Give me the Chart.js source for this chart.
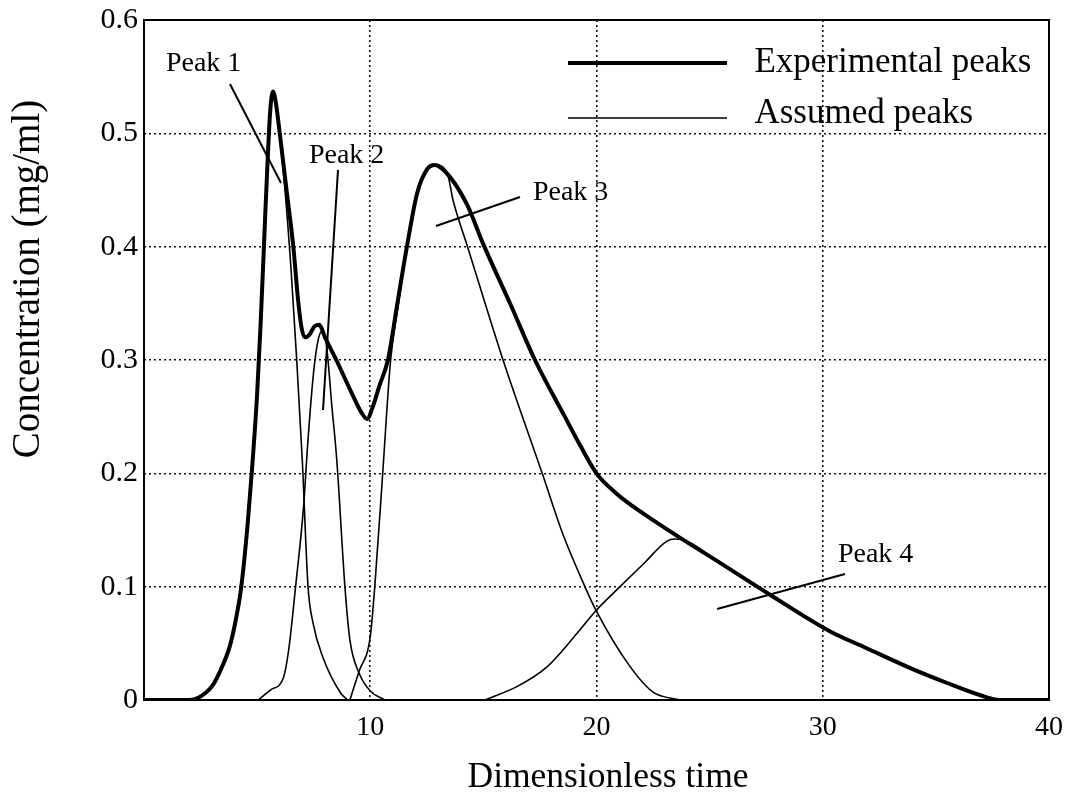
<!DOCTYPE html>
<html>
<head>
<meta charset="utf-8">
<title>Concentration vs dimensionless time</title>
<script src="https://cdn.jsdelivr.net/npm/chart.js@4.4.1/dist/chart.umd.min.js"></script>
<style>
  html, body { margin: 0; padding: 0; background: #fff; }
  #wrap { width: 1072px; height: 805px; }
</style>
</head>
<body>
<div id="wrap"><canvas id="grafico" width="1072" height="805"></canvas></div>
<script>
// =====================================================
// DATOS
// =====================================================

// curva experimental (trazo grueso)
const expTime = [0, 2.0, 2.4, 3.0, 3.33, 3.8, 4.07, 4.3, 4.58, 4.78, 5.0, 5.15, 5.3, 5.45, 5.58, 5.7, 5.82, 6.0, 6.3, 6.6, 6.8, 6.95, 7.1, 7.3, 7.55, 7.75, 8.0, 8.5, 9.2, 9.6, 9.86, 10.1, 10.4, 10.78, 11.2, 11.62, 12.07, 12.5, 12.86, 13.5, 14.28, 15.0, 16.2, 17.28, 18.6, 19.27, 20.0, 20.89, 21.6, 22.4, 23.7, 25.46, 27.58, 30.37, 31.8, 34.0, 35.5, 37.0, 37.8, 40];
const expConc = [0, 0, 0.002, 0.012, 0.024, 0.048, 0.072, 0.10, 0.155, 0.205, 0.27, 0.33, 0.40, 0.47, 0.52, 0.537, 0.528, 0.50, 0.45, 0.40, 0.355, 0.33, 0.32, 0.322, 0.33, 0.331, 0.32, 0.30, 0.27, 0.254, 0.248, 0.258, 0.277, 0.30, 0.35, 0.40, 0.447, 0.468, 0.472, 0.462, 0.437, 0.402, 0.349, 0.30, 0.25, 0.225, 0.20, 0.182, 0.171, 0.160, 0.143, 0.121, 0.094, 0.060, 0.047, 0.027, 0.015, 0.004, 0, 0];

// picos supuestos (trazo fino)
const peak1Time = [2.0, 2.4, 3.0, 3.33, 3.8, 4.07, 4.3, 4.58, 4.78, 5.0, 5.15, 5.3, 5.45, 5.58, 5.7, 5.85, 6.15, 6.5, 6.75, 7.0, 7.25, 7.47, 7.9, 8.7, 9.0];
const peak1Conc = [0, 0.002, 0.012, 0.024, 0.048, 0.072, 0.10, 0.155, 0.205, 0.27, 0.33, 0.40, 0.47, 0.52, 0.537, 0.52, 0.468, 0.38, 0.30, 0.21, 0.10, 0.068, 0.038, 0.006, 0];

const peak2Time = [5.05, 5.6, 6.15, 6.4, 6.7, 7.05, 7.25, 7.5, 7.7, 7.9, 8.08, 8.3, 8.52, 8.88, 9.1, 9.5, 10.0, 10.65];
const peak2Conc = [0, 0.009, 0.019, 0.045, 0.10, 0.17, 0.23, 0.29, 0.318, 0.326, 0.31, 0.26, 0.212, 0.10, 0.053, 0.024, 0.008, 0];

const peak3Time = [9.1, 9.5, 10.0, 10.2, 10.55, 10.9, 11.25, 11.62, 12.07, 12.5, 12.86, 13.4, 13.66, 14.3, 15.87, 17.6, 18.52, 19.27, 19.98, 21.5, 22.5, 23.7];
const peak3Conc = [0, 0.025, 0.056, 0.10, 0.20, 0.30, 0.35, 0.40, 0.447, 0.468, 0.472, 0.465, 0.441, 0.40, 0.30, 0.20, 0.146, 0.110, 0.079, 0.029, 0.007, 0];

const peak4Time = [15.07, 16.5, 17.8, 19.27, 19.98, 21.04, 22.07, 23.1, 23.47, 24.0, 25.46, 27.58, 30.37, 31.8, 34.0, 35.5, 37.0, 37.8, 40];
const peak4Conc = [0, 0.012, 0.029, 0.062, 0.079, 0.10, 0.12, 0.14, 0.142, 0.14, 0.121, 0.094, 0.060, 0.047, 0.027, 0.015, 0.004, 0, 0];

// ejes
const xTickValues = [0, 10, 20, 30, 40];
const xTickLabels = ["", "10", "20", "30", "40"];
const yTickValues = [0, 0.1, 0.2, 0.3, 0.4, 0.5, 0.6];
const yTickLabels = ["0", "0.1", "0.2", "0.3", "0.4", "0.5", "0.6"];

const xTitle = "Dimensionless time";
const yTitle = "Concentration (mg/ml)";
const expLabel = "Experimental peaks";
const assumedLabel = "Assumed peaks";

// =====================================================
// ANOTACIONES (posicion en unidades de los ejes)
// =====================================================

const notas = [
  { texto: "Peak 1", x: 0.97, y: 0.555, desde: [3.80, 0.5435], hasta: [6.055, 0.4562] },
  { texto: "Peak 2", x: 7.29, y: 0.4738, desde: [8.575, 0.4676], hasta: [7.912, 0.2559] },
  { texto: "Peak 3", x: 17.19, y: 0.4412, desde: [16.62, 0.4438], hasta: [12.906, 0.4182] },
  { texto: "Peak 4", x: 30.67, y: 0.1218, desde: [30.98, 0.1112], hasta: [25.33, 0.0803] }
];

const leyenda = {
  lineaX0: 18.74, lineaX1: 25.77, textoX: 26.98,
  filas: [
    { lineaY: 0.5621, textoY: 0.5541, grosor: 4 },
    { lineaY: 0.5135, textoY: 0.5091, grosor: 1.6 }
  ]
};

const SERIF = '"Liberation Serif", "Times New Roman", serif';

function puntos(xs, ys) {
  return xs.map((x, i) => ({ x: x, y: ys[i] }));
}

function serie(label, xs, ys, grosor) {
  return {
    label: label,
    data: puntos(xs, ys),
    borderColor: "#000",
    borderWidth: grosor,
    pointRadius: 0,
    fill: false,
    cubicInterpolationMode: "monotone",
    borderCapStyle: "round",
    borderJoinStyle: "round"
  };
}

// =====================================================
// PLUGIN: marco, titulos, leyenda y notas
// =====================================================

const decoracion = {
  id: "decoracion",
  afterDraw(chart) {
    const ctx = chart.ctx;
    const xs = chart.scales.x;
    const ys = chart.scales.y;
    const area = chart.chartArea;
    const px = v => xs.getPixelForValue(v);
    const py = v => ys.getPixelForValue(v);

    ctx.save();

    // marco
    ctx.strokeStyle = "#000";
    ctx.lineWidth = 2;
    ctx.strokeRect(area.left, area.top, area.right - area.left, area.bottom - area.top);

    ctx.fillStyle = "#000";
    ctx.textBaseline = "alphabetic";

    // titulo eje x
    ctx.font = "35.5px " + SERIF;
    ctx.textAlign = "center";
    ctx.fillText(xTitle, 608, 787);

    // titulo eje y
    ctx.save();
    ctx.translate(39, 279);
    ctx.rotate(-Math.PI / 2);
    ctx.font = "39px " + SERIF;
    ctx.fillText(yTitle, 0, 0);
    ctx.restore();

    // leyenda
    const textos = [expLabel, assumedLabel];
    ctx.textAlign = "left";
    ctx.font = "35px " + SERIF;
    leyenda.filas.forEach((f, i) => {
      ctx.lineWidth = f.grosor;
      ctx.beginPath();
      ctx.moveTo(px(leyenda.lineaX0), py(f.lineaY));
      ctx.lineTo(px(leyenda.lineaX1), py(f.lineaY));
      ctx.stroke();
      ctx.fillText(textos[i], px(leyenda.textoX), py(f.textoY));
    });

    // notas de cada pico
    ctx.font = "28px " + SERIF;
    ctx.lineWidth = 2;
    notas.forEach(n => {
      ctx.fillText(n.texto, px(n.x), py(n.y));
      ctx.beginPath();
      ctx.moveTo(px(n.desde[0]), py(n.desde[1]));
      ctx.lineTo(px(n.hasta[0]), py(n.hasta[1]));
      ctx.stroke();
    });

    ctx.restore();
  }
};

// =====================================================
// GRAFICO
// =====================================================

const gridColor = max => c => (c.tick.value <= 0 || c.tick.value >= max) ? "rgba(0,0,0,0)" : "#111";

new Chart(document.getElementById("grafico"), {
  type: "line",
  data: {
    datasets: [
      serie(expLabel, expTime, expConc, 4),
      serie(assumedLabel, peak1Time, peak1Conc, 1.6),
      serie(assumedLabel, peak2Time, peak2Conc, 1.6),
      serie(assumedLabel, peak3Time, peak3Conc, 1.6),
      serie(assumedLabel, peak4Time, peak4Conc, 1.6)
    ]
  },
  options: {
    responsive: false,
    animation: false,
    layout: { padding: { top: 20, right: 23, bottom: 0, left: 0 } },
    plugins: {
      legend: { display: false },
      tooltip: { enabled: false }
    },
    scales: {
      x: {
        type: "linear",
        min: 0,
        max: 40,
        afterBuildTicks: s => { s.ticks = xTickValues.map(v => ({ value: v })); },
        afterFit: s => { s.height = 105; s.paddingLeft = 0; s.paddingRight = 0; },
        ticks: {
          color: "#000",
          padding: 11,
          maxRotation: 0,
          font: { family: SERIF, size: 28 },
          callback: (v, i) => xTickLabels[i]
        },
        grid: { color: gridColor(40), lineWidth: 1.6, drawTicks: false },
        border: { display: false, dash: [2, 3] }
      },
      y: {
        type: "linear",
        min: 0,
        max: 0.6,
        afterBuildTicks: s => { s.ticks = yTickValues.map(v => ({ value: v })); },
        afterFit: s => { s.width = 144; s.paddingTop = 0; s.paddingBottom = 0; },
        ticks: {
          color: "#000",
          padding: 6,
          font: { family: SERIF, size: 30 },
          callback: (v, i) => yTickLabels[i]
        },
        grid: { color: gridColor(0.6), lineWidth: 1.6, drawTicks: false },
        border: { display: false, dash: [2, 3] }
      }
    }
  },
  plugins: [decoracion]
});
</script>
</body>
</html>
